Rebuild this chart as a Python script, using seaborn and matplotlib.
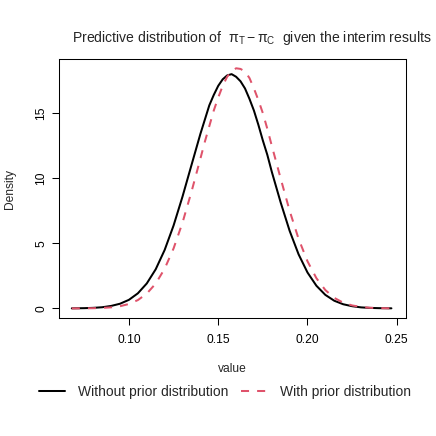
import numpy as np
import pandas as pd
import matplotlib
matplotlib.use('Agg')
import matplotlib.pyplot as plt
import seaborn as sns

# ─── Data ─────────────────────────────────────────────────────────────────────
x_values = [0.068, 0.075, 0.080, 0.085, 0.090, 0.095, 0.100, 0.105, 0.110,
            0.115, 0.120, 0.125, 0.130, 0.135, 0.140, 0.1425, 0.145, 0.1475,
            0.150, 0.1525, 0.155, 0.1575, 0.160, 0.1625, 0.165, 0.1675,
            0.170, 0.1725, 0.175, 0.1775, 0.180, 0.185, 0.190, 0.195, 0.200,
            0.205, 0.210, 0.215, 0.220, 0.225, 0.230, 0.235, 0.240, 0.247]

dens_no_prior = [0.006, 0.02, 0.044, 0.09, 0.19, 0.36, 0.66, 1.16, 1.92,
                 3.01, 4.49, 6.37, 8.59, 11.0, 13.4, 14.5, 15.6, 16.4,
                 17.1, 17.6, 17.9, 18.0, 17.8, 17.45, 16.9, 16.1,
                 15.2, 14.1, 12.9, 11.8, 10.5, 8.13, 5.96, 4.16, 2.76,
                 1.74, 1.04, 0.59, 0.32, 0.17, 0.08, 0.04, 0.02, 0.008]

dens_with_prior = [0.002, 0.007, 0.016, 0.038, 0.083, 0.17, 0.34, 0.64, 1.14,
                   1.91, 3.05, 4.61, 6.59, 8.95, 11.5, 12.8, 14.0, 15.2,
                   16.2, 17.1, 17.8, 18.2, 18.45, 18.4, 18.2, 17.7,
                   16.9, 16.0, 15.0, 13.8, 12.5, 9.97, 7.50, 5.35, 3.62,
                   2.32, 1.41, 0.81, 0.44, 0.23, 0.11, 0.05, 0.023, 0.007]

series_labels = ["Without prior distribution", "With prior distribution"]
x_ticks = [0.10, 0.15, 0.20, 0.25]
y_ticks = [0, 5, 10, 15]

# ─── Style ────────────────────────────────────────────────────────────────────
sns.set_style("ticks")
plt.rcParams['font.family'] = ['Liberation Sans', 'DejaVu Sans']
plt.rcParams['mathtext.fontset'] = 'custom'
plt.rcParams['mathtext.rm'] = 'Liberation Sans'
plt.rcParams['mathtext.it'] = 'Liberation Sans'
plt.rcParams['mathtext.bf'] = 'Liberation Sans:bold'

PINK = '#DF536B'
FS = 8.64

df = pd.DataFrame({
    "value": x_values * 2,
    "Density": dens_no_prior + dens_with_prior,
    "series": [series_labels[0]] * len(x_values) + [series_labels[1]] * len(x_values),
})

fig = plt.figure(figsize=(4.36, 4.36), dpi=100)
ax = fig.add_axes([59.3 / 436, 1 - 318 / 436, (405.7 - 59.3) / 436, (318 - 59.3) / 436])

sns.lineplot(data=df[df.series == series_labels[0]], x="value", y="Density",
             color='black', linewidth=1.45, ax=ax, label=series_labels[0])
sns.lineplot(data=df[df.series == series_labels[1]], x="value", y="Density",
             color=PINK, linewidth=1.45, ax=ax, label=series_labels[1])
ax.lines[1].set_dashes((4, 4))
ax.get_legend().remove()

ax.set_xlim(0.061, 0.255)
ax.set_ylim(-0.736, 19.14)
ax.set_xticks(x_ticks)
ax.set_xticklabels([f"{t:.2f}" for t in x_ticks])
ax.set_yticks(y_ticks)
ax.set_yticklabels([str(t) for t in y_ticks])

for s in ax.spines.values():
    s.set_visible(True)
    s.set_linewidth(0.75)
    s.set_color('black')

ax.tick_params(axis='both', direction='out', length=5.2, width=0.75,
               labelsize=FS, colors='black')
ax.tick_params(axis='x', pad=6.5)
ax.tick_params(axis='y', labelrotation=90, pad=3.5)
for lbl in ax.get_yticklabels():
    lbl.set_va('center')

ax.set_xlabel("value", fontsize=FS)
ax.set_ylabel("Density", fontsize=FS)
ax.xaxis.set_label_coords(0.5, -51 / 258.7)
ax.xaxis.label.set_va('center')
ax.yaxis.set_label_coords(-(59.3 - 10) / 346.4, 0.5)
ax.yaxis.label.set_va('center')

fig.text(251.5 / 436, 1 - 38.3 / 436,
         r"Predictive distribution of  $\pi_{\mathrm{T}} - \pi_{\mathrm{C}}$  given the interim results",
         ha='center', va='center', fontsize=10.1)

handles = ax.lines[:2]
fig.legend(handles, series_labels, loc='center',
           bbox_to_anchor=(225 / 436, 1 - 392 / 436), ncol=2, frameon=False,
           fontsize=10.0, handlelength=1.87, handletextpad=0.94, columnspacing=0.86)

fig.savefig("out.png", dpi=100)
